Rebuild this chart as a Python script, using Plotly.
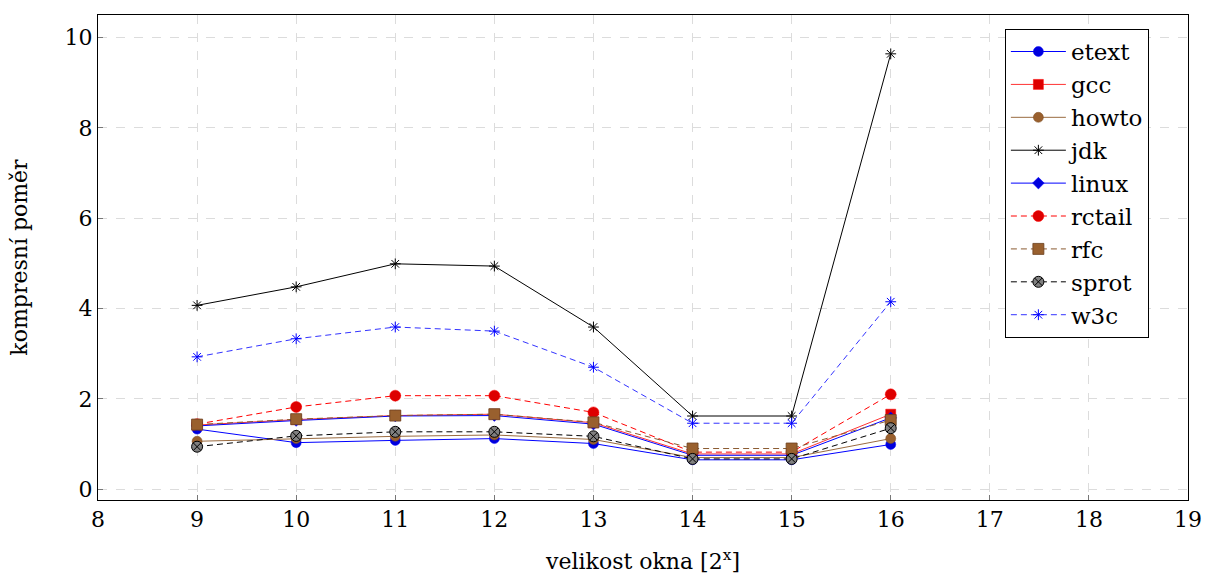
import plotly.graph_objects as go

x_vals = [9, 10, 11, 12, 13, 14, 15, 16]

etext = [1.33, 1.03, 1.08, 1.12, 1.01, 0.65, 0.65, 0.99]
gcc = [1.42, 1.54, 1.63, 1.66, 1.47, 0.78, 0.78, 1.66]
howto = [1.06, 1.12, 1.17, 1.20, 1.10, 0.70, 0.70, 1.12]
jdk = [4.07, 4.48, 4.99, 4.94, 3.59, 1.62, 1.62, 9.64]
linux = [1.40, 1.52, 1.62, 1.63, 1.44, 0.75, 0.75, 1.58]
rctail = [1.44, 1.82, 2.07, 2.07, 1.70, 0.82, 0.82, 2.10]
rfc = [1.43, 1.55, 1.63, 1.66, 1.48, 0.90, 0.90, 1.53]
sprot = [0.94, 1.18, 1.27, 1.27, 1.17, 0.67, 0.67, 1.35]
w3c = [2.93, 3.33, 3.59, 3.50, 2.70, 1.46, 1.46, 4.15]

series = [
    ("etext", etext, dict(color="#0000ff", width=1, dash="solid"), dict(symbol="circle", size=10, color="#0000dd", line=dict(color="#0000ff", width=0.5))),
    ("gcc", gcc, dict(color="#ff3333", width=1, dash="solid"), dict(symbol="square", size=10, color="#dd0000", line=dict(color="#ff0000", width=0.5))),
    ("howto", howto, dict(color="#9a6b40", width=1, dash="solid"), dict(symbol="circle", size=10, color="#99602e", line=dict(color="#7a4a20", width=0.5))),
    ("jdk", jdk, dict(color="#000000", width=1, dash="solid"), dict(symbol="asterisk-open", size=9, color="#000000", line=dict(color="#000000", width=1))),
    ("linux", linux, dict(color="#0000ff", width=1, dash="solid"), dict(symbol="diamond", size=9, color="#0000dd", line=dict(color="#0000ff", width=0.5))),
    ("rctail", rctail, dict(color="#ff0000", width=1, dash="6px,4px"), dict(symbol="circle", size=11, color="#dd0000", line=dict(color="#ff0000", width=0.5))),
    ("rfc", rfc, dict(color="#8a5a30", width=1, dash="6px,4px"), dict(symbol="square", size=11, color="#99602e", line=dict(color="#6b4020", width=0.8))),
    ("sprot", sprot, dict(color="#000000", width=1, dash="6px,4px"), dict(symbol="circle-x", size=11, color="#808080", line=dict(color="#000000", width=1))),
    ("w3c", w3c, dict(color="#3333ff", width=1, dash="6px,4px"), dict(symbol="asterisk-open", size=9, color="#0000ff", line=dict(color="#0000ff", width=1))),
]

fig = go.Figure()
for name, vals, line, marker in series:
    fig.add_trace(go.Scatter(x=x_vals, y=vals, name=name, mode="lines+markers",
                             line=line, marker=marker))

font_family = "DejaVu Serif"
fs = 22
fig.update_layout(
    width=1205, height=577,
    margin=dict(l=98, r=17, t=15, b=77),
    paper_bgcolor="white", plot_bgcolor="white",
    font=dict(family=font_family, size=fs, color="black"),
    showlegend=True,
    legend=dict(x=0.832, y=0.971, xanchor="left", yanchor="top",
                bordercolor="black", borderwidth=1, bgcolor="white",
                font=dict(family=font_family, size=23), itemwidth=55, tracegroupgap=0),
)
fig.update_xaxes(
    range=[8, 19], dtick=1, tick0=8, automargin=False,
    showgrid=True, gridcolor="#dcdcdc", griddash="dash", gridwidth=1,
    showline=True, linecolor="black", linewidth=1, mirror=True,
    ticks="inside", ticklen=5, tickcolor="#777777",
    zeroline=False,
    title=dict(text="velikost okna [2<sup>x</sup>]", font=dict(family=font_family, size=fs), standoff=22),
    tickfont=dict(family=font_family, size=fs),
)
fig.update_yaxes(
    range=[-0.24, 10.5], dtick=2, tick0=0, automargin=False,
    showgrid=True, gridcolor="#dcdcdc", griddash="dash", gridwidth=1,
    showline=True, linecolor="black", linewidth=1, mirror=True,
    ticks="inside", ticklen=5, tickcolor="#777777",
    zeroline=False,
    title=dict(text="kompresní poměr", font=dict(family=font_family, size=fs), standoff=30),
    tickfont=dict(family=font_family, size=fs),
)

fig.write_html("out.html")
